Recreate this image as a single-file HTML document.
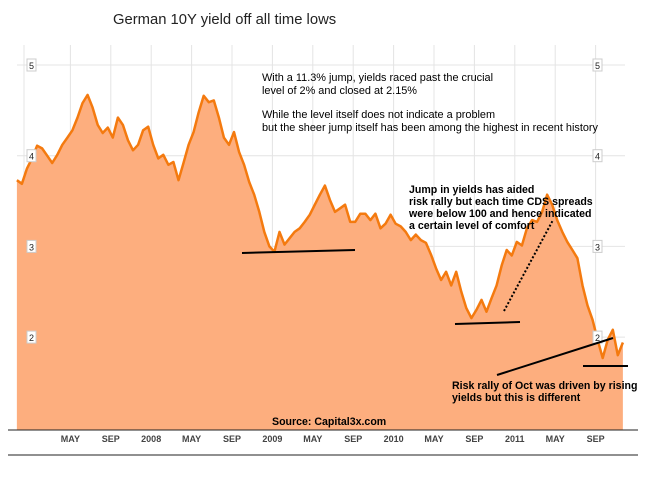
<!DOCTYPE html>
<html><head><meta charset="utf-8"><style>
body{margin:0;background:#fff;}
svg{display:block;font-family:"Liberation Sans",Arial,sans-serif;}
</style></head><body>
<svg id="chart" width="652" height="478" viewBox="0 0 652 478">
<text x="113" y="24" font-size="14.8" fill="#222">German 10Y yield off all time lows</text>
<g id="grid"></g>
<g id="series"></g>
<g id="yl"></g>
<g id="xl"></g>
<g id="notes" font-size="10.9" fill="#000">
<text x="262" y="81">With a 11.3% jump, yields raced past the crucial</text>
<text x="262" y="94">level of 2% and closed at 2.15%</text>
<text x="262" y="118">While the level itself does not indicate a problem</text>
<text x="262" y="131">but the sheer jump itself has been among the highest in recent history</text>
<g font-weight="bold" font-size="10.6">
<text x="409" y="193">Jump in yields has aided</text>
<text x="409" y="205">risk rally but each time CDS spreads</text>
<text x="409" y="217">were below 100 and hence indicated</text>
<text x="409" y="229">a certain level of comfort</text>
<text x="452" y="389">Risk rally of Oct was driven by rising</text>
<text x="452" y="401">yields but this is different</text>
<text x="272" y="425">Source: Capital3x.com</text>
</g></g>
<g stroke="#000" stroke-width="2">
<line x1="242" y1="253" x2="355" y2="250"/>
<line x1="455" y1="324" x2="520" y2="322"/>
<line x1="497" y1="375" x2="613" y2="338"/>
<line x1="583" y1="366" x2="628" y2="366"/>
<line x1="504" y1="311" x2="553" y2="220" stroke-dasharray="2,2"/>
</g>
<line x1="8" y1="430" x2="638" y2="430" stroke="#222"/>
<line x1="8" y1="455" x2="638" y2="455" stroke="#222"/>
</svg>
<script>
const startMonth=-1.3, monthStep=0.5;
const yields=[3.73,3.69,3.86,3.97,4.11,4.08,4.00,3.92,4.01,4.12,4.20,4.28,4.42,4.58,4.67,4.53,4.34,4.25,4.31,4.20,4.42,4.34,4.17,4.06,4.12,4.28,4.32,4.12,3.97,4.01,3.90,3.93,3.73,3.92,4.12,4.26,4.48,4.66,4.59,4.61,4.42,4.20,4.12,4.26,4.04,3.90,3.71,3.57,3.38,3.16,3.00,2.94,3.16,3.02,3.09,3.16,3.20,3.27,3.35,3.46,3.57,3.67,3.51,3.38,3.42,3.46,3.27,3.27,3.36,3.36,3.29,3.36,3.20,3.25,3.35,3.25,3.22,3.16,3.07,3.13,3.07,3.04,2.91,2.76,2.63,2.72,2.57,2.72,2.50,2.32,2.21,2.30,2.41,2.28,2.43,2.57,2.79,2.96,2.90,3.05,3.01,3.20,3.29,3.27,3.38,3.57,3.46,3.29,3.16,3.05,2.96,2.87,2.57,2.35,2.19,1.97,1.77,1.97,2.08,1.80,1.94];
const yTicks=[2,3,4,5];
const xTickMonths=[4,8,12,16,20,24,28,32,36,40,44,48,52,56];
const xTickLabels=["MAY","SEP","2008","MAY","SEP","2009","MAY","SEP","2010","MAY","SEP","2011","MAY","SEP"];
const NS="http://www.w3.org/2000/svg";
const X=m=>30+10.1*m, Y=v=>65+(5-v)*90.7;
function mk(t,a,p){const e=document.createElementNS(NS,t);for(const k in a)e.setAttribute(k,a[k]);p.appendChild(e);return e;}
const grid=document.getElementById('grid'),ser=document.getElementById('series'),yl=document.getElementById('yl'),xl=document.getElementById('xl');
const vg=mk('line',{x1:24,y1:45,x2:24,y2:430,stroke:'#e4e4e4'},grid);


xTickMonths.forEach((m,i)=>{
 const g=mk('line',{x1:X(m),y1:45,x2:X(m),y2:430,stroke:'#e4e4e4'},grid);
 
 
 const t=mk('text',{x:X(m),y:442,'text-anchor':'middle','font-size':9,'font-weight':'bold',fill:'#444'},xl);
 
 
 t.textContent=xTickLabels[i];
});
yTicks.forEach(v=>{
 const g=mk('line',{x1:17,y1:Y(v),x2:625,y2:Y(v),stroke:'#e4e4e4'},grid);
 
 
 [31,597].forEach(x=>{
  const r=mk('rect',{x:x-4,y:Y(v)-6,width:9,height:12,fill:'#fff',stroke:'#ccc'},yl);
  
  
  const t=mk('text',{x:x+0.5,y:Y(v)+4,'text-anchor':'middle','font-size':9,fill:'#222'},yl);
  
  
  t.textContent=v;
 });
});
const pts=yields.map((v,i)=>[X(startMonth+i*monthStep),Y(v)]);
const last=pts[pts.length-1];
let d='M'+pts.map(p=>p[0].toFixed(1)+','+p[1].toFixed(1)).join(' L');
const area=mk('path',{d:d+' L'+last[0]+',430 L'+pts[0][0]+',430 Z',fill:'#fdae7e'},ser);


const line=mk('path',{d:d,fill:'none',stroke:'#f47a0f','stroke-width':2.5,'stroke-linejoin':'round'},ser);


</script>
</body></html>
